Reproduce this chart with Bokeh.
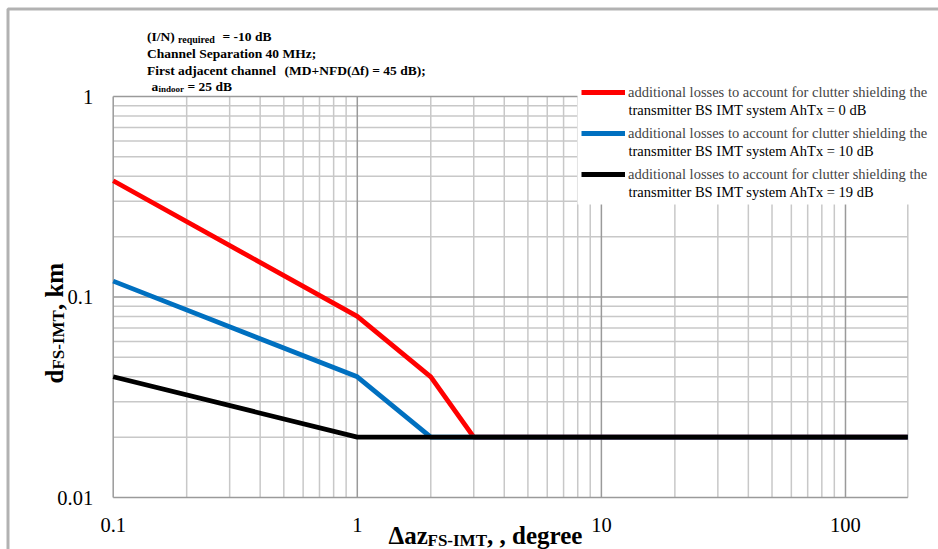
import math
from bokeh.plotting import figure
from bokeh.models import Label, Legend, LegendItem, Range1d, BoxAnnotation
from bokeh.core.properties import value
from bokeh.embed import file_html
from bokeh.resources import INLINE

# ---------------- data ----------------
x_red = [0.1, 1, 2, 3, 180]
y_red = [0.38, 0.08, 0.04, 0.02, 0.02]
x_blue = [0.1, 1, 2, 180]
y_blue = [0.12, 0.04, 0.02, 0.02]
x_black = [0.1, 1, 180]
y_black = [0.04, 0.02, 0.02]

legend_line1 = "additional losses to account for clutter shielding the"
legend_line2 = [
    "transmitter BS IMT system AhTx = 0 dB",
    "transmitter BS IMT system AhTx = 10 dB",
    "transmitter BS IMT system AhTx = 19 dB",
]
series_colors = ["#FF0000", "#0070C0", "#000000"]

x_min, x_max = 0.1, 180
y_min, y_max = 0.01, 1
x_ticks = [0.1, 1, 10, 100]
x_tick_labels = ["0.1", "1", "10", "100"]
x_minor = [0.2, 0.3, 0.4, 0.5, 0.6, 0.7, 0.8, 0.9,
           2, 3, 4, 5, 6, 7, 8, 9,
           20, 30, 40, 50, 60, 70, 80, 90]
y_ticks = [0.01, 0.1, 1]
y_tick_labels = ["0.01", "0.1", "1"]
y_minor = [0.02, 0.03, 0.04, 0.05, 0.06, 0.07, 0.08, 0.09,
           0.2, 0.3, 0.4, 0.5, 0.6, 0.7, 0.8, 0.9]

FONT = "Liberation Serif"

# ---------------- layout (pixels) ----------------
W, H = 938, 549
PL, PR, PT, PB = 112.7, 907.3, 96.0, 497.0      # plot-area edges on the canvas

ppd_x = (PR - PL) / (math.log10(x_max) - math.log10(x_min))
ppd_y = (PB - PT) / (math.log10(y_max) - math.log10(y_min))
xr = Range1d(10 ** (math.log10(x_min) - PL / ppd_x),
             10 ** (math.log10(x_max) + (W - PR) / ppd_x))
yr = Range1d(10 ** (math.log10(y_min) - (H - PB) / ppd_y),
             10 ** (math.log10(y_max) + PT / ppd_y))

p = figure(width=W, height=H, x_axis_type="log", y_axis_type="log",
           x_range=xr, y_range=yr, x_axis_location=None, y_axis_location=None,
           min_border=0, output_backend="svg", toolbar_location=None)
p.outline_line_color = None
p.background_fill_color = "#FFFFFF"
p.border_fill_color = "#FFFFFF"
for g in p.grid:
    g.visible = False

MINOR = "#C8C8C8"
MAJOR = "#9A9A9A"

# grid lines (minor first, then major) drawn from the tick arrays
p.segment(x0=x_minor, y0=[y_min] * len(x_minor), x1=x_minor, y1=[y_max] * len(x_minor),
          line_color=MINOR, line_width=1.5)
p.segment(x0=[x_min] * len(y_minor), y0=y_minor, x1=[x_max] * len(y_minor), y1=y_minor,
          line_color=MINOR, line_width=1.5)
p.segment(x0=[x_max], y0=[y_min], x1=[x_max], y1=[y_max], line_color=MINOR, line_width=1.5)
p.segment(x0=[x_min] * len(y_ticks), y0=y_ticks, x1=[x_max] * len(y_ticks), y1=y_ticks,
          line_color=MAJOR, line_width=1.5)
p.segment(x0=x_ticks, y0=[y_min] * len(x_ticks), x1=x_ticks, y1=[y_max] * len(x_ticks),
          line_color=MAJOR, line_width=1.5)

# tick labels
p.text(x=x_ticks, y=[y_min] * len(x_ticks), text=x_tick_labels, y_offset=27,
       text_align="center", text_baseline="middle", text_font=value(FONT),
       text_font_size="20.5px", text_color="#000000")
p.text(x=[x_min] * len(y_ticks), y=y_ticks, text=y_tick_labels, x_offset=-20,
       text_align="right", text_baseline="middle", text_font=value(FONT),
       text_font_size="20.5px", text_color="#000000")

# data lines
r_red = p.line(x_red, y_red, line_color=series_colors[0], line_width=4.8)
r_blue = p.line(x_blue, y_blue, line_color=series_colors[1], line_width=4.8)
r_black = p.line(x_black, y_black, line_color=series_colors[2], line_width=4.8)


# screen helpers (canvas pixels from top-left -> Bokeh screen units)
def X(px):
    return px


def Y(py):
    return H - py


# white legend background
p.add_layout(BoxAnnotation(left=X(577), right=X(W + 40), top=Y(88), bottom=Y(204),
                           left_units="screen", right_units="screen",
                           top_units="screen", bottom_units="screen",
                           fill_color="#FFFFFF", fill_alpha=1.0, line_color=None))

# outer chart border: one rectangle whose right and bottom edges fall outside the picture
p.add_layout(BoxAnnotation(left=X(7.5), right=X(W + 40), top=Y(8.5), bottom=Y(H + 40),
                           left_units="screen", right_units="screen",
                           top_units="screen", bottom_units="screen",
                           fill_alpha=0.0, line_color="#000000", line_width=3))

legend = Legend(items=[LegendItem(label=legend_line1, renderers=[r])
                       for r in (r_red, r_blue, r_black)],
                location=(X(581), Y(186)))
legend.label_text_font = FONT
legend.label_text_font_size = "14.5px"
legend.glyph_width = 44
legend.glyph_height = 24
legend.label_height = 24
legend.label_standoff = 3
legend.spacing = 17
legend.padding = 0
legend.margin = 0
legend.border_line_color = None
legend.background_fill_alpha = 0.0
p.add_layout(legend)


def lab(text, px, py, size, bold=True, angle=0.0, baseline="alphabetic"):
    p.add_layout(Label(x=X(px), y=Y(py), x_units="screen", y_units="screen",
                       text=text, text_font=FONT, text_font_size=f"{size}px",
                       text_font_style="bold" if bold else "normal",
                       text_color="#000000", text_align="left",
                       text_baseline=baseline, angle=angle))


# second legend lines
for i, t in enumerate(legend_line2):
    lab(t, 628, 109 + 41 * i, 14.5, bold=False, baseline="middle")

# annotation block
lab("(I/N)", 146.5, 36, 13.5)
lab("required", 177.5, 38.5, 10)
lab("= -10 dB", 222, 36, 13.5)
lab("Channel Separation 40 MHz;", 146.5, 53, 13.5)
lab("First adjacent channel", 146.5, 70, 13.5)
lab("(MD+NFD(\u0394f) = 45 dB);", 284, 70, 13.5)
lab("a", 151, 86, 13.5)
lab("indoor", 158, 88.5, 9)
lab("= 25 dB", 187, 86, 13.5)

# x axis label
lab("\u0394az", 388, 535, 25)
lab("FS-IMT", 427, 540, 17)
lab(", , degree", 486.5, 535, 25)

# y axis label (rotated)
lab("d", 54, 383, 25, angle=math.pi / 2)
lab("FS-IMT", 58, 369.1, 17, angle=math.pi / 2)
lab(", km", 54, 309.6, 25, angle=math.pi / 2)

open("out.html", "w").write(file_html(p, INLINE))
